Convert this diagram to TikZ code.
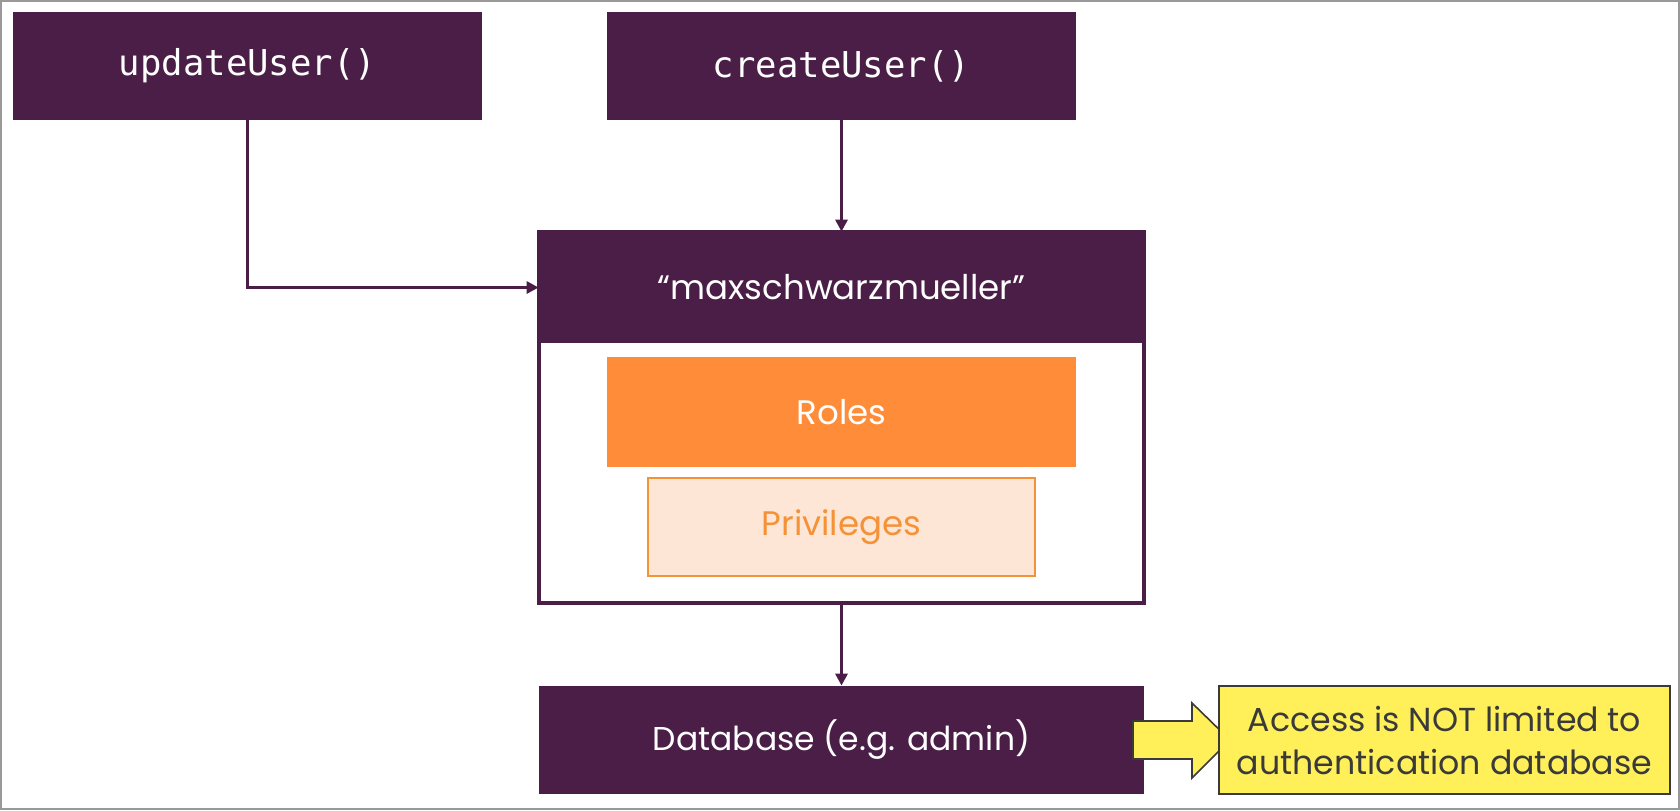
\documentclass[tikz,border=0pt]{standalone}
\usepackage{fontspec}
\setmainfont{Poppins}
\setmonofont{DejaVu Sans Mono}
\usetikzlibrary{arrows.meta}

\definecolor{plum}{HTML}{4A1E47}
\definecolor{rolesorange}{HTML}{FF8C38}
\definecolor{privline}{HTML}{F59238}
\definecolor{privfill}{HTML}{FEE6D6}
\definecolor{notefill}{HTML}{FFF05A}
\definecolor{notetext}{HTML}{3A3A3A}

\tikzset{
  funcbox/.style={fill=plum, text=white, minimum width=234.5pt, minimum height=54pt, font=\ttfamily\fontsize{17.8}{20}\selectfont},
  plumbox/.style={fill=plum, text=white, minimum width=302.5pt, minimum height=54pt, font=\fontsize{17}{20}\selectfont},
  link/.style={->, draw=plum, line width=1.9pt}
}

\begin{document}
\begin{tikzpicture}[x=0.5pt, y=-0.5pt, >={Triangle[length=6pt,width=6pt]}]
\useasboundingbox (0,0) rectangle (1680,810);
\draw[gray!80, line width=1pt] (1,1) rectangle (1679,809);

% function calls
\node[funcbox] (upd) at (247.5,66) {updateUser()};
\node[funcbox] (cre) at (841.5,66) {createUser()};

% user with roles and privileges
\node[draw=plum, line width=1.9pt, minimum width=302.5pt, minimum height=185.5pt] (user) at (841.5,417.5) {};
\node[plumbox, minimum height=55.5pt] (head) at (841.5,287.5) {``maxschwarzmueller''};
\node[fill=rolesorange, text=white, minimum width=234.5pt, minimum height=55pt, font=\fontsize{17}{20}\selectfont] (roles) at (841.5,412) {Roles};
\node[draw=privline, fill=privfill, text=privline, line width=1pt, minimum width=193.5pt, minimum height=49pt, font=\fontsize{17}{20}\selectfont] (priv) at (841.5,527) {Privileges};

% database
\node[plumbox, font=\fontsize{16.5}{20}\selectfont] (db) at (841.5,740) {Database (e.g. admin)};

% note
\draw[fill=notefill, draw=notetext, line width=0.8pt] (1133,721) -- (1192,721) -- (1192,703) -- (1230,740) -- (1192,778) -- (1192,759) -- (1133,759) -- cycle;
\node[draw=notetext, fill=notefill, text=notetext, line width=0.8pt, minimum width=225.5pt, minimum height=54pt, align=center, font=\fontsize{16.6}{21.5}\selectfont] (note) at (1444.5,740) {Access is NOT limited to\\authentication database};

\draw[link] (upd.south) |- (head.west);
\draw[link] (cre.south) -- (head.north);
\draw[link] (user.south) -- (db.north);
\end{tikzpicture}
\end{document}
